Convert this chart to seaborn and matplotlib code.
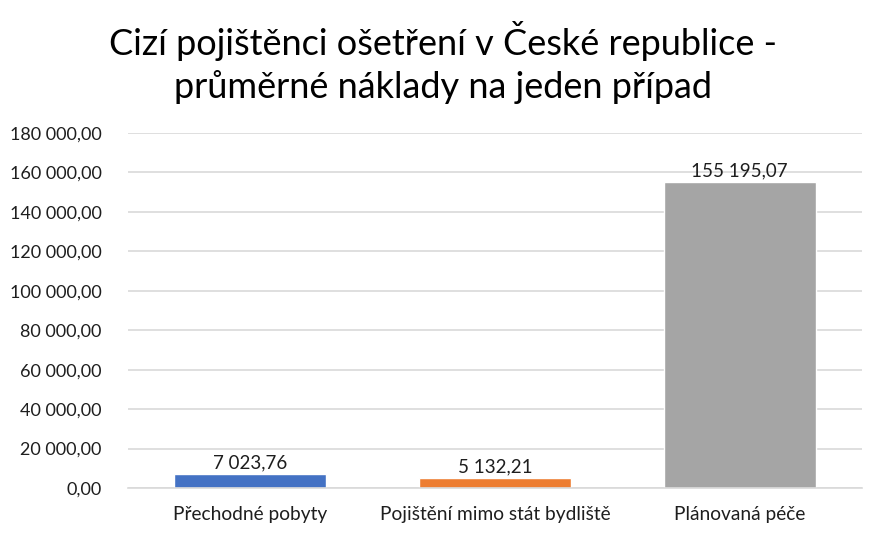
import matplotlib
matplotlib.use("Agg")
import matplotlib.pyplot as plt
import seaborn as sns
import pandas as pd

categories = ["Přechodné pobyty", "Pojištění mimo stát bydliště", "Plánovaná péče"]
values = [7023.76, 5132.21, 155195.07]
colors = ["#4472C4", "#ED7D31", "#A5A5A5"]
y_ticks = [0, 20000, 40000, 60000, 80000, 100000, 120000, 140000, 160000, 180000]

title = "Cizí pojištěnci ošetření v České republice -\nprůměrné náklady na jeden případ"


def cz_format(v):
    s = f"{v:,.2f}"
    return s.replace(",", " ").replace(".", ",")


sns.set_theme(style="white")
plt.rcParams["font.family"] = ["Lato", "DejaVu Sans"]

text_color = "#1E1E1E"
df = pd.DataFrame({"kategorie": categories, "hodnota": values})

fig = plt.figure(figsize=(8.87, 5.40), dpi=100)
ax = fig.add_axes([0.1443, 0.0963, 0.8275, 0.6574])

sns.barplot(data=df, x="kategorie", y="hodnota", hue="kategorie",
            palette=colors, width=0.62, legend=False, ax=ax, saturation=1)

ax.set_ylim(0, 180000)
ax.set_xlim(-0.5, 2.5)
ax.set_yticks(y_ticks)
ax.set_yticklabels([cz_format(t) for t in y_ticks], fontsize=13, color=text_color)
ax.yaxis.grid(True, color="#D9D9D9", linewidth=1.2)
ax.set_axisbelow(True)
ax.tick_params(axis="y", length=0, pad=19)
ax.tick_params(axis="x", length=0, pad=13, labelsize=13.8, labelcolor=text_color)
ax.set_xticks(range(len(categories)))
ax.set_xticks([-0.5, 0.5, 1.5, 2.5], minor=True)
ax.tick_params(axis="x", which="minor", length=6, color="#D9D9D9", width=1.2)
ax.set_xlabel("")
ax.set_ylabel("")

for side in ["top", "right", "left"]:
    ax.spines[side].set_visible(False)
ax.spines["bottom"].set_color("#D9D9D9")
ax.spines["bottom"].set_linewidth(1.2)

for i, v in enumerate(values):
    ax.annotate(cz_format(v), (i, v), xytext=(0, 2), textcoords="offset points",
                ha="center", va="bottom", fontsize=13.5, color=text_color)

fig.text(0.5, 0.962, title, ha="center", va="top", fontsize=26,
         color="#000000", linespacing=1.33)

fig.savefig("out.png", dpi=100, facecolor="white")
